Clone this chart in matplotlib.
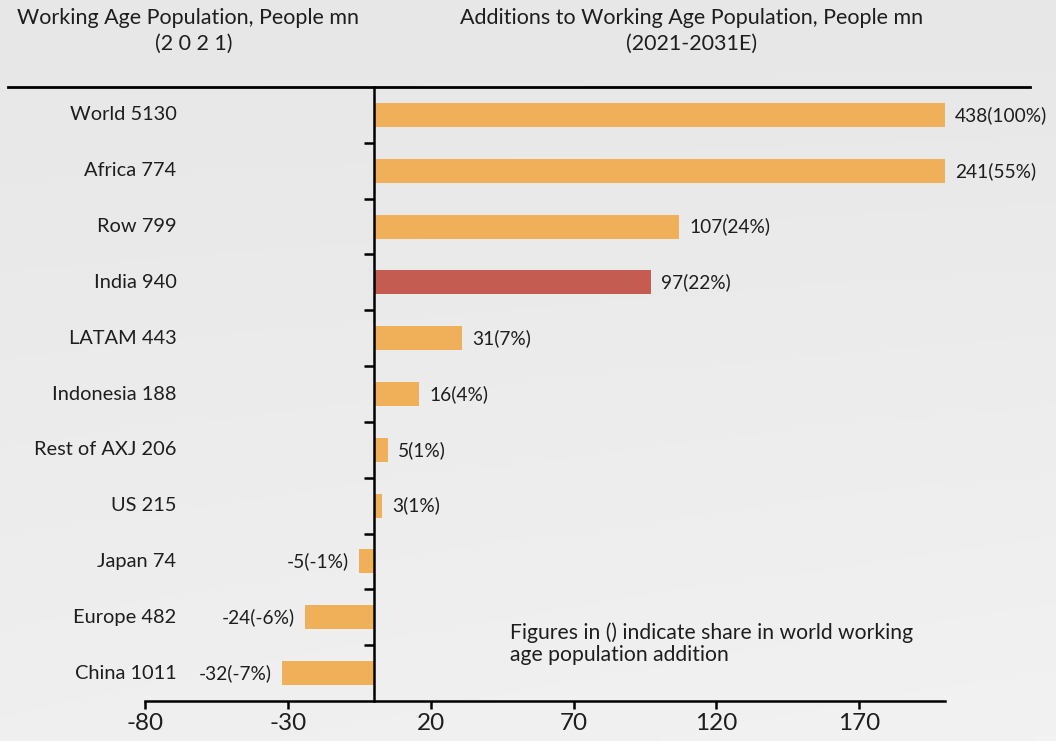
import matplotlib
matplotlib.use("Agg")
import numpy as np
import matplotlib.pyplot as plt
from matplotlib.lines import Line2D
from matplotlib.colors import LinearSegmentedColormap

regions = ["World", "Africa", "Row", "India", "LATAM", "Indonesia",
           "Rest of AXJ", "US", "Japan", "Europe", "China"]
population_2021 = [5130, 774, 799, 940, 443, 188, 206, 215, 74, 482, 1011]
additions = [438, 241, 107, 97, 31, 16, 5, 3, -5, -24, -32]
share_labels = ["100%", "55%", "24%", "22%", "7%", "4%", "1%", "1%", "-1%", "-6%", "-7%"]
x_ticks = [-80, -30, 20, 70, 120, 170]

ORANGE = "#F0B05A"
RED = "#C45C52"
BG = "#EBEBEB"
FONT = "Lato"
TXT = "#1E1E1E"

fig = plt.figure(figsize=(10.56, 7.41), dpi=100, facecolor=BG)

# subtle background gradient (darker top, lighter bottom-right)
bg_ax = fig.add_axes([0, 0, 1, 1], zorder=-10)
gy, gx = np.mgrid[0:1:200j, 0:1:200j]
grad = 0.75 * gy + 0.25 * gx * gy
cmap = LinearSegmentedColormap.from_list("bg", ["#E7E7E7", "#F2F2F3"])
bg_ax.imshow(grad, cmap=cmap, aspect="auto", origin="upper", extent=[0, 1, 0, 1])
bg_ax.axis("off")

ax = fig.add_axes([145/1056, 40/741, 800/1056, 614/741])
ax.set_facecolor("none")

xmin, xmax = -80, 200
colors = [RED if r == "India" else ORANGE for r in regions]
ypos = list(range(len(regions)))
ax.barh(ypos, additions, height=0.43, color=colors, zorder=2)
ax.set_xlim(xmin, xmax)
ax.set_ylim(len(regions) - 0.5, -0.5)

for y, r, p, v, s in zip(ypos, regions, population_2021, additions, share_labels):
    ax.text(-69, y, f"{r} {p}", ha="right", va="center", fontsize=14.4,
            family=FONT, color=TXT, clip_on=False)
    if v >= 0:
        ax.text(min(v, xmax) + 3.5, y, f"{v}({s})", ha="left", va="center",
                fontsize=13.8, family=FONT, color=TXT, clip_on=False)
    else:
        ax.text(v - 3.5, y, f"{v}({s})", ha="right", va="center",
                fontsize=13.8, family=FONT, color=TXT, clip_on=False)

ax.spines["top"].set_visible(False)
ax.spines["right"].set_visible(False)
ax.spines["left"].set_position(("data", 0))
ax.spines["left"].set_linewidth(1.8)
ax.spines["bottom"].set_linewidth(1.8)
ax.set_xticks(x_ticks)
ax.set_xticklabels([str(t) for t in x_ticks], fontsize=17.5, family=FONT, color=TXT)
ax.tick_params(axis="x", direction="out", length=6, width=1.8, pad=3)
ax.set_yticks([y + 0.5 for y in ypos[:-1]])
ax.set_yticklabels([])
ax.tick_params(axis="y", direction="out", length=7, width=1.8)

# top rule
fig.add_artist(Line2D([8/1056, 1030/1056], [1 - 87/741, 1 - 87/741],
                      color="black", lw=2, transform=fig.transFigure))

fig.text(188/1056, 1 - 18/741, "Working Age Population, People mn", ha="center",
         va="center", fontsize=15.5, family=FONT, color=TXT)
fig.text(194/1056, 1 - 44/741, "(2 0 2 1)", ha="center",
         va="center", fontsize=15.5, family=FONT, color=TXT)
fig.text(692/1056, 1 - 18/741, "Additions to Working Age Population, People mn", ha="center",
         va="center", fontsize=15.5, family=FONT, color=TXT)
fig.text(692/1056, 1 - 44/741, "(2021-2031E)", ha="center",
         va="center", fontsize=15.5, family=FONT, color=TXT)

fig.text(510/1056, 1 - 644/741,
         "Figures in () indicate share in world working\nage population addition",
         ha="left", va="center", fontsize=15.2, family=FONT, color=TXT,
         linespacing=1.15)

fig.savefig("out.png", dpi=100, facecolor=BG)
